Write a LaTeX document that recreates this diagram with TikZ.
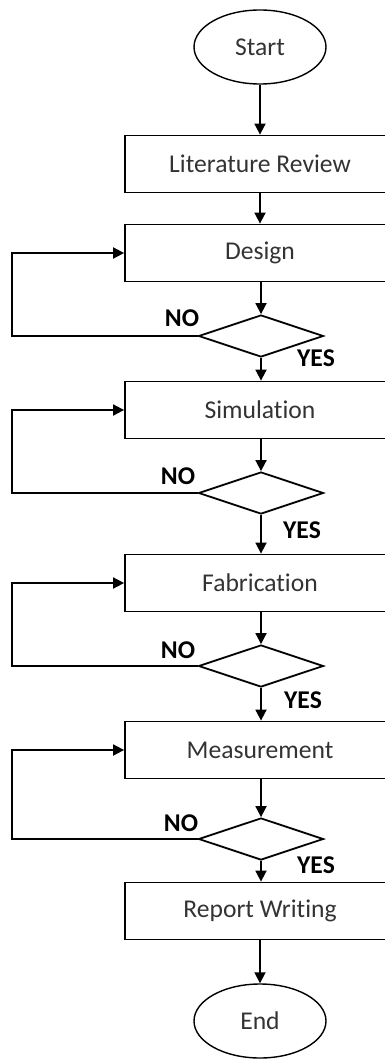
\documentclass[tikz,border=0pt]{standalone}
\usepackage{fontspec}
\setmainfont{Carlito}[Ligatures={NoCommon}]
\usetikzlibrary{arrows.meta,positioning,shapes.geometric}

\begin{document}
\begin{tikzpicture}[x=0.5pt,y=-0.5pt,
				font=\fontsize{12.8}{15}\selectfont,
				arr/.style={-{Triangle[length=5.5pt,width=5.5pt]},line width=0.9pt},
				term/.style={draw,ellipse,line width=0.7pt,minimum width=66pt,minimum height=37pt,text=black!80,inner sep=0pt},
				stepbox/.style={draw,rectangle,line width=0.9pt,minimum width=135pt,minimum height=28.5pt,text=black!80,inner sep=0pt},
				test/.style={draw,diamond,line width=0.9pt,minimum width=62.5pt,minimum height=21pt,inner sep=0pt},
				lbl/.style={font=\fontsize{12.8}{15}\selectfont\bfseries,inner sep=0pt}]
				\clip (0,0) rectangle (385,1059);
				
				\node[term] (start) at (260,47){Start};
				\node[stepbox] (lit) at (260,164){Literature Review};
				\draw[arr](start)--(lit);
				
				% design loop
				\node[stepbox] (design) at (260,253){Design};
				\node[test] (dec1) at (261,336){};
				\node[lbl] (no1) at (182,318){NO};
				\node[lbl] (yes1) at (316,358){YES};
				\draw[arr](lit)--(design);
				\draw[arr](design.south -| dec1.north)--(dec1.north);
				\draw[arr](dec1.west)--++(-186,0)|-(design.west);
				
				% simulation loop
				\node[stepbox] (sim) at (260,410){Simulation};
				\node[test] (dec2) at (261,493){};
				\node[lbl] (no2) at (178,476){NO};
				\node[lbl] (yes2) at (302,530){YES};
				\draw[arr](dec1.south)--(dec1.south |- sim.north);
				\draw[arr](sim.south -| dec2.north)--(dec2.north);
				\draw[arr](dec2.west)--++(-186,0)|-(sim.west);
				
				% fabrication loop
				\node[stepbox] (fab) at (260,583){Fabrication};
				\node[test] (dec3) at (261,666){};
				\node[lbl] (no3) at (178,650){NO};
				\node[lbl] (yes3) at (303,700){YES};
				\draw[arr](dec2.south)--(dec2.south |- fab.north);
				\draw[arr](fab.south -| dec3.north)--(dec3.north);
				\draw[arr](dec3.west)--++(-186,0)|-(fab.west);
				
				% measurement loop
				\node[stepbox] (meas) at (260,750){Measurement};
				\node[test] (dec4) at (261,839){};
				\node[lbl] (no4) at (181,823){NO};
				\node[lbl] (yes4) at (316,865){YES};
				\draw[arr](dec3.south)--(dec3.south |- meas.north);
				\draw[arr](meas.south -| dec4.north)--(dec4.north);
				\draw[arr](dec4.west)--++(-186,0)|-(meas.west);
				
				\node[stepbox] (rep) at (260,911){Report Writing};
				\node[term] (stop) at (260,1021){End};
				\draw[arr](dec4.south)--(dec4.south |- rep.north);
				\draw[arr](rep.south -| stop.north)--(stop.north);
			\end{tikzpicture}
\end{document}
